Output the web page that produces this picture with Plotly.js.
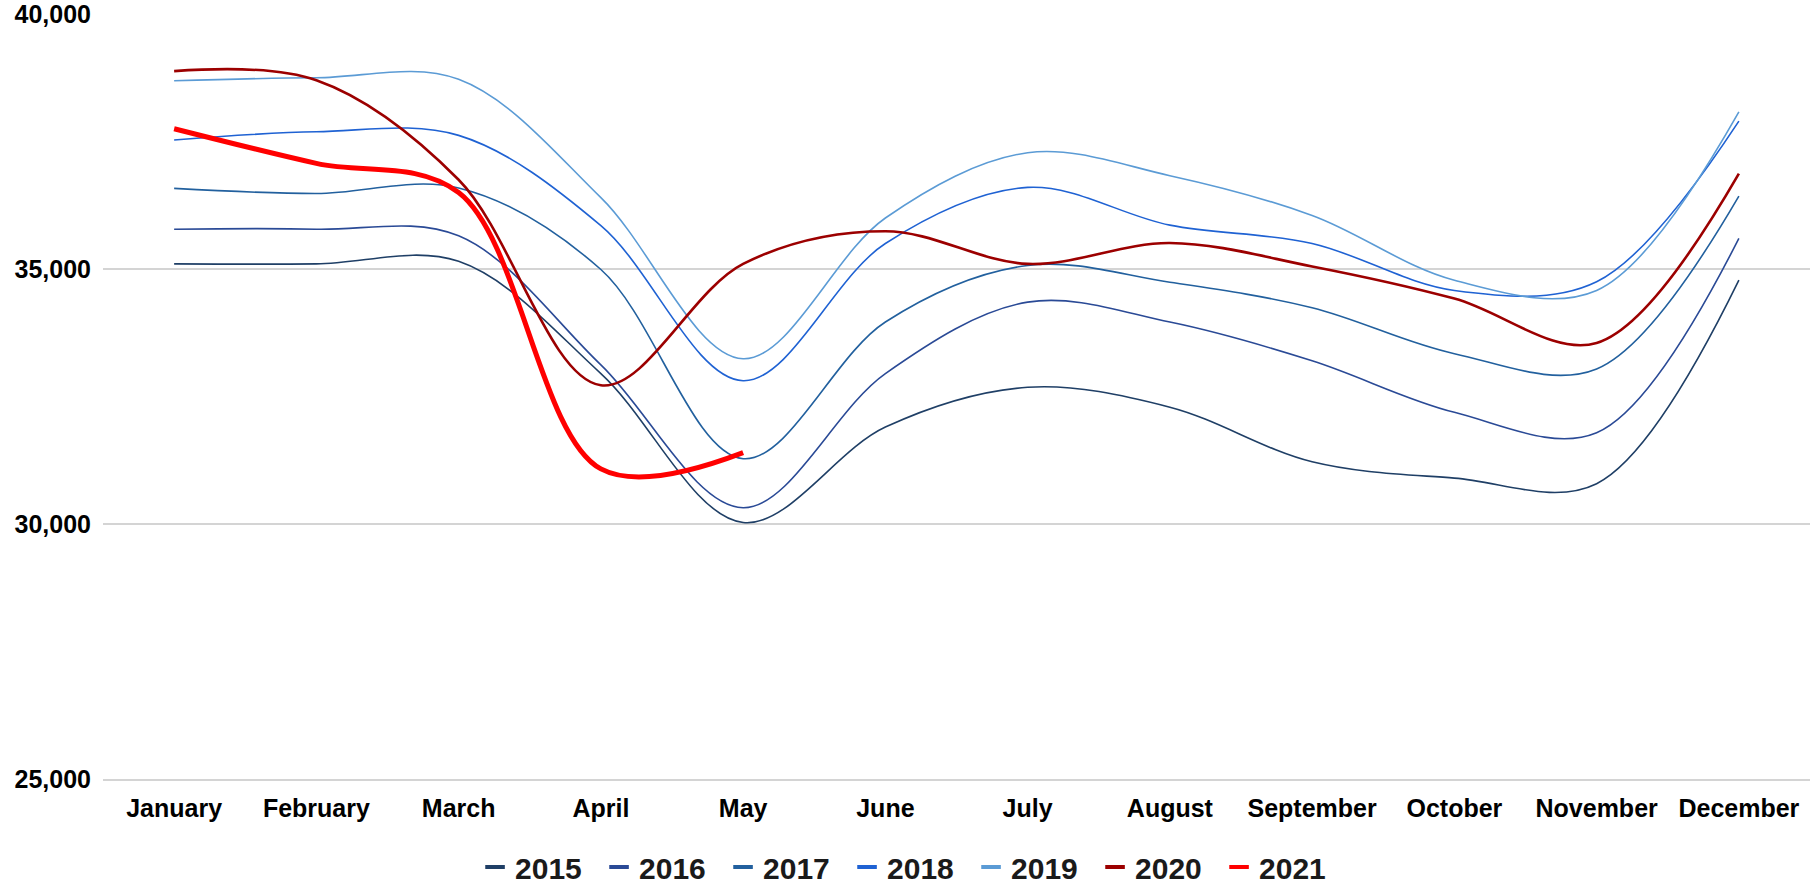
<!DOCTYPE html>
<html>
<head>
<meta charset="utf-8">
<script src="https://cdn.plot.ly/plotly-3.0.1.min.js"></script>
<style>
  html, body { margin: 0; padding: 0; background: #ffffff; }
  #chart { width: 1810px; height: 886px; }
</style>
</head>
<body>
<div id="chart"></div>
<script>
const months = ["January","February","March","April","May","June","July","August","September","October","November","December"];

const y2015 = [35100, 35100, 35150, 32950, 30030, 31900, 32680, 32290, 31220, 30900, 30790, 34780];
const y2016 = [35780, 35780, 35650, 33120, 30320, 32950, 34350, 33960, 33200, 32190, 31790, 35600];
const y2017 = [36580, 36480, 36590, 34990, 31280, 33960, 35070, 34740, 34240, 33340, 33040, 36430];
const y2018 = [37530, 37690, 37620, 35850, 32810, 35500, 36600, 35860, 35500, 34580, 34750, 37900];
const y2019 = [38690, 38750, 38720, 36400, 33240, 36000, 37280, 36830, 36050, 34780, 34580, 38080];
const y2020 = [38880, 38700, 36750, 32720, 35100, 35740, 35100, 35510, 35050, 34420, 33550, 36870];
const y2021 = [37750, 37070, 36500, 31080, 31400];

const seriesNames = ["2015","2016","2017","2018","2019","2020","2021"];
const seriesValues = [y2015, y2016, y2017, y2018, y2019, y2020, y2021];
const seriesColors = ["#1f3f66","#2a4a96","#22609e","#1f62d3","#5b9bd5","#9c0000","#ff0000"];
const seriesWidths = [1.6, 1.6, 1.6, 1.6, 1.6, 2.6, 5];

const yTicks = [25000, 30000, 35000, 40000];

const FONT = "Liberation Sans, Arial, sans-serif";

const traces = [];
seriesNames.forEach((name, i) => {
  const vals = seriesValues[i];
  traces.push({
    type: "scatter",
    mode: "lines",
    name: name,
    legendgroup: name,
    showlegend: false,
    x: months.slice(0, vals.length),
    y: vals,
    line: { color: seriesColors[i], width: seriesWidths[i], shape: "spline", smoothing: 1 },
    hovertemplate: "%{x}: %{y:,}<extra>" + name + "</extra>"
  });
});
// legend entries (short dash symbols, as in the original)
seriesNames.forEach((name, i) => {
  traces.push({
    type: "scatter",
    mode: "markers",
    name: name,
    legendgroup: name,
    showlegend: true,
    x: [months[0]],
    y: [null],
    marker: { symbol: "line-ew", size: 14, color: seriesColors[i], line: { width: 4, color: seriesColors[i] } },
    hoverinfo: "skip"
  });
});

const layout = {
  width: 1810,
  height: 886,
  margin: { l: 103, r: 0, t: 14, b: 107, autoexpand: false },
  paper_bgcolor: "#ffffff",
  plot_bgcolor: "#ffffff",
  font: { family: FONT, color: "#000000" },
  xaxis: {
    type: "category",
    categoryorder: "array",
    categoryarray: months,
    range: [-0.5, 11.5],
    showgrid: false,
    zeroline: false,
    showline: true,
    linecolor: "#d4d4d4",
    linewidth: 1.5,
    ticks: "",
    ticklabelstandoff: 6,
    ticklabeloverflow: "allow",
    automargin: false,
    tickfont: { family: FONT, size: 25, color: "#000000", weight: "bold" },
    fixedrange: true
  },
  yaxis: {
    range: [25000, 40000],
    tickvals: yTicks,
    tickformat: ",d",
    showgrid: true,
    gridcolor: "#d4d4d4",
    gridwidth: 1.5,
    zeroline: false,
    showline: false,
    ticks: "",
    ticklabelstandoff: 11,
    ticklabeloverflow: "allow",
    automargin: false,
    tickfont: { family: FONT, size: 25, color: "#000000", weight: "bold" },
    fixedrange: true
  },
  showlegend: true,
  legend: {
    orientation: "h",
    x: 0.4722,
    xanchor: "center",
    y: -0.115,
    yanchor: "middle",
    entrywidth: 79,
    entrywidthmode: "pixels",
    font: { family: FONT, size: 30, color: "#1a1a1a", weight: "bold" },
    itemclick: false,
    itemdoubleclick: false,
    bgcolor: "rgba(0,0,0,0)"
  }
};

Plotly.newPlot("chart", traces, layout, { displayModeBar: false });
</script>
</body>
</html>
